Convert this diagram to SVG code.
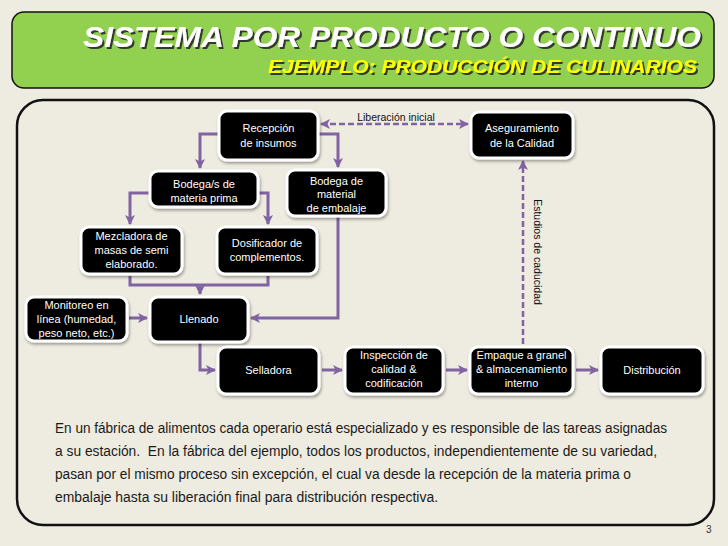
<svg xmlns="http://www.w3.org/2000/svg" width="728" height="546" viewBox="0 0 728 546">
<style>
.node rect{fill:#000;stroke:#fff;stroke-width:3;filter:url(#sh)}
.node text{fill:#fff;font-family:"Liberation Sans",Arial,sans-serif;font-size:11px;text-anchor:middle}
.con{fill:none;stroke:#8064a2;stroke-width:3}
.dash{fill:none;stroke:#8064a2;stroke-width:2.5;stroke-dasharray:6 3}
.lbl{fill:#111;font-family:"Liberation Sans",Arial,sans-serif;font-size:10.5px}
.body{fill:#1a1a1a;font-family:"Liberation Sans",Arial,sans-serif;font-size:14px}
.ttl{font-family:"Liberation Sans",Arial,sans-serif;font-weight:bold;font-style:italic;filter:url(#tsh)}
</style>
<defs>
<filter id="sh" x="-20%" y="-20%" width="150%" height="160%">
<feDropShadow dx="1" dy="2" stdDeviation="1.5" flood-color="#000" flood-opacity="0.35"/>
</filter>
<filter id="tsh" x="-5%" y="-20%" width="110%" height="150%">
<feDropShadow dx="2" dy="2" stdDeviation="0.6" flood-color="#2a2a2a" flood-opacity="0.9"/>
</filter>
<marker id="ah" markerUnits="userSpaceOnUse" markerWidth="10" markerHeight="10" viewBox="0 0 10 10" refX="9" refY="5" orient="auto">
<path d="M0,0 L10,5 L0,10 L2.5,5 Z" fill="#8064a2"/>
</marker>
<marker id="ahs" markerUnits="userSpaceOnUse" markerWidth="10" markerHeight="10" viewBox="0 0 10 10" refX="1" refY="5" orient="auto">
<path d="M10,0 L0,5 L10,10 L7.5,5 Z" fill="#8064a2"/>
</marker>
</defs>
<rect width="728" height="546" fill="#eeebe0"/>
<g id="header">
<rect x="12" y="12" width="702" height="76" rx="12" fill="#92d050" stroke="#111" stroke-width="1.5"/>
<text class="ttl" x="83" y="47" font-size="30" fill="#fff" textLength="618" lengthAdjust="spacingAndGlyphs">SISTEMA POR PRODUCTO O CONTINUO</text>
<text class="ttl" x="268" y="73" font-size="19" fill="#ffff00" textLength="429" lengthAdjust="spacingAndGlyphs">EJEMPLO: PRODUCCIÓN DE CULINARIOS</text>
</g>
<rect x="17" y="100" width="697" height="425" rx="26" fill="none" stroke="#111" stroke-width="2.5"/>
<g id="connectors">
<path class="con" d="M219,134 H200 V168" marker-end="url(#ah)"/>
<path class="con" d="M318,134 H338 V167" marker-end="url(#ah)"/>
<path class="con" d="M150,193 H130 V224" marker-end="url(#ah)"/>
<path class="con" d="M258,193 H268 V224" marker-end="url(#ah)"/>
<path class="con" d="M130,276 V285 H268 V276"/>
<path class="con" d="M200,285 V294" marker-end="url(#ah)"/>
<path class="con" d="M338,217 V318 H251" marker-end="url(#ah)"/>
<path class="con" d="M129,318 H147" marker-end="url(#ah)"/>
<path class="con" d="M200,343 V370 H215" marker-end="url(#ah)"/>
<path class="con" d="M322,370 H342" marker-end="url(#ah)"/>
<path class="con" d="M446,370 H467" marker-end="url(#ah)"/>
<path class="con" d="M576,370 H598" marker-end="url(#ah)"/>
<path class="dash" d="M321,124 H468" marker-start="url(#ahs)" marker-end="url(#ah)"/>
<path class="dash" d="M523,344 V161" marker-end="url(#ah)"/>
<text class="lbl" x="396" y="121" text-anchor="middle">Liberación inicial</text>
<text class="lbl" transform="translate(534,252) rotate(90)" text-anchor="middle">Estudios de caducidad</text>
</g>
<g id="recepcion" class="node"><rect x="219" y="111" width="99" height="49" rx="8"/><text x="268.5" y="132">Recepción</text><text x="268.5" y="147">de insumos</text></g>
<g id="aseguramiento" class="node"><rect x="471" y="112" width="102" height="46" rx="8"/><text x="522" y="132">Aseguramiento</text><text x="522" y="147">de la Calidad</text></g>
<g id="bodega-mp" class="node"><rect x="150" y="171" width="108" height="36" rx="8"/><text x="204" y="188">Bodega/s de</text><text x="204" y="202">materia prima</text></g>
<g id="bodega-emb" class="node"><rect x="287" y="170" width="99" height="46" rx="8"/><text x="336.5" y="185">Bodega de</text><text x="336.5" y="198">material</text><text x="336.5" y="212">de embalaje</text></g>
<g id="mezcladora" class="node"><rect x="81" y="227" width="101" height="47" rx="8"/><text x="131.5" y="240">Mezcladora de</text><text x="131.5" y="254">masas de semi</text><text x="131.5" y="268">elaborado.</text></g>
<g id="dosificador" class="node"><rect x="217" y="227" width="100" height="47" rx="8"/><text x="267" y="247">Dosificador de</text><text x="267" y="261">complementos.</text></g>
<g id="monitoreo" class="node"><rect x="26" y="297" width="101" height="44" rx="8"/><text x="76.5" y="309">Monitoreo en</text><text x="76.5" y="323">línea (humedad,</text><text x="76.5" y="337">peso neto, etc.)</text></g>
<g id="llenado" class="node"><rect x="150" y="297" width="98" height="45" rx="8"/><text x="199" y="323">Llenado</text></g>
<g id="selladora" class="node"><rect x="218" y="347" width="101" height="47" rx="8"/><text x="268.5" y="374">Selladora</text></g>
<g id="inspeccion" class="node"><rect x="345" y="347" width="98" height="47" rx="8"/><text x="394" y="359">Inspección de</text><text x="394" y="373">calidad &amp;</text><text x="394" y="387">codificación</text></g>
<g id="empaque" class="node"><rect x="470" y="347" width="103" height="47" rx="8"/><text x="521.5" y="359">Empaque a granel</text><text x="521.5" y="373">&amp; almacenamiento</text><text x="521.5" y="387">interno</text></g>
<g id="distribucion" class="node"><rect x="601" y="347" width="102" height="47" rx="8"/><text x="652" y="374">Distribución</text></g>
<g id="texto">
<text class="body" x="55" y="433" textLength="612" lengthAdjust="spacingAndGlyphs">En un fábrica de alimentos cada operario está especializado y es responsible de las tareas asignadas</text>
<text class="body" x="55" y="456" textLength="602" lengthAdjust="spacingAndGlyphs" xml:space="preserve">a su estación.  En la fábrica del ejemplo, todos los productos, independientemente de su variedad,</text>
<text class="body" x="55" y="479" textLength="576" lengthAdjust="spacingAndGlyphs">pasan por el mismo proceso sin excepción, el cual va desde la recepción de la materia prima o</text>
<text class="body" x="55" y="502" textLength="383" lengthAdjust="spacingAndGlyphs">embalaje hasta su liberación final para distribución respectiva.</text>
</g>
<text x="706" y="533" fill="#333" font-family="Liberation Sans, Arial, sans-serif" font-size="10">3</text>
</svg>
